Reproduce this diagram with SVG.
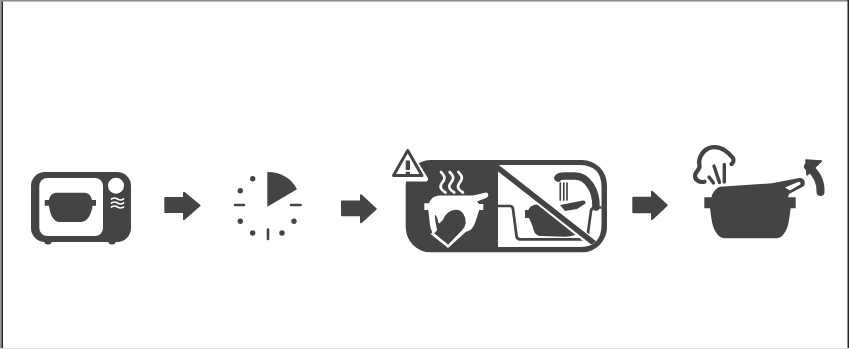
<svg xmlns="http://www.w3.org/2000/svg" width="849" height="349" viewBox="0 0 849 349">
<style>
.d{fill:#444}
.w{fill:#fff}
.sd{fill:none;stroke:#444;stroke-linecap:round;stroke-linejoin:round}
.sw{fill:none;stroke:#fff;stroke-linecap:round;stroke-linejoin:round}
.ar{fill:#444;stroke:#444;stroke-width:2;stroke-linejoin:round}
</style>
<defs>
<clipPath id="whitePane"><path d="M498 165H579Q601.500 165 601.500 187V225Q601.500 247 579 247H498Z"/></clipPath>
</defs>
<rect width="849" height="349" fill="#fff"/>
<g id="frame">
<rect x="0" y="0" width="849" height="1.500" fill="#888"/>
<rect x="0" y="0" width="1.500" height="349" fill="#999"/>
<rect x="1.500" y="1.500" width="1.500" height="347.500" fill="#222"/>
<rect x="847.500" y="0" width="1.500" height="349" fill="#222"/>
<rect x="0" y="348" width="849" height="1" fill="#ddd"/>
</g>
<g id="microwave">
<circle class="d" cx="48" cy="240.500" r="4"/>
<circle class="d" cx="112" cy="240.500" r="4"/>
<rect class="d" x="31" y="172" width="100" height="70" rx="14"/>
<rect class="w" x="39.300" y="178" width="63.700" height="58" rx="8"/>
<circle class="w" cx="116" cy="185.700" r="8"/>
<path class="sw" stroke-width="1.700" d="M111.500 199q3-2 6 0t6 0M111.500 203q3-2 6 0t6 0M111.500 207q3-2 6 0t6 0"/>
<path class="d" d="M44.700 200H49C50 195 53 192.700 57 192.700H84C88 192.700 91 195 92 200H96V205.700H92.500C91.500 214 88 222 80 222H60C53 222 50 214 49 205.700H44.700Z"/>
</g>
<g id="timer">
<path class="d" d="M267.300 206.700V172C281 172 291 178 297 189.300Z"/>
<g class="d">
<circle cx="252.700" cy="178.700" r="2.700"/>
<circle cx="240.300" cy="190.700" r="2.700"/>
<circle cx="240.300" cy="221.300" r="2.700"/>
<circle cx="252.700" cy="233" r="2.700"/>
<circle cx="282" cy="233" r="2.700"/>
<circle cx="294" cy="221.300" r="2.700"/>
</g>
<path class="sd" stroke-width="2.600" d="M235 205H244M291 205H300.500M268 229.500V239"/>
</g>
<g id="cooling-panel">
<rect class="d" x="405.700" y="160" width="201.300" height="92.300" rx="25"/>
<path class="w" d="M498 165H579Q601.500 165 601.500 187V225Q601.500 247 579 247H498Z"/>
<g clip-path="url(#whitePane)">
<path class="sd" stroke-width="2.700" d="M496 206H510Q512.500 206 513 209L516.500 236Q517 239.300 520 239.300H583Q587 239.300 587.500 236L591 211Q591.500 207.500 595 207.500H603"/>
<path class="sd" stroke-width="7.500" stroke-linecap="butt" d="M558 178Q559 176 565 176H575C587 176 596.500 190 596 207"/>
<path class="sd" stroke-width="1.700" stroke-linecap="butt" d="M560.300 183V200M563.800 183V200M567 183V200"/>
<path class="d" d="M525 210H528.500C530 206 533 205 538 204L548 203.500L579 233L577 233.500C574 236 570 236.500 565 236.800L540 236C535 235 534 232 532.500 226L529 218H525Z"/>
<path class="d" d="M560 205L583 200.500Q586 200.500 585.500 203.500L577 209L565 211Z"/>
<path class="sw" stroke-width="9" stroke-linecap="butt" d="M493 163.500L596 245.500"/>
<path class="sd" stroke-width="5.500" stroke-linecap="butt" d="M493 164L597 245.500"/>
</g>
<path class="w" d="M424.300 203.300V210H428.300L430 225C431 230 432 232 433 233.500L430 233.500L448 248L466 231.700C471 231 473.700 227 475.300 222C477 218 478 213 479.300 210H483.300V204H479C478.300 203 478 202.500 477 201.500L486 198C489 197 489 192.500 486 192.500L473 195.500H440C434 196 431 198 429 203.300Z"/>
<path class="d" stroke="#fff" stroke-width="2" stroke-linejoin="round" d="M434 214.300C436.500 213 438 216 439.300 222.300C440 221 441 220.500 441.700 220C443.500 214 450 208.500 456 208.700C463 208.700 467 216 466.700 223C466.300 226.500 464.500 229 462.700 231L448.300 246L432.700 233.300L436 230C435 224 433.500 219 434 214.300Z"/>
<g class="sw" stroke-width="2.700">
<path d="M441 172C446 177 445 179 442 183C439 187 441 190 445.500 192.500"/>
<path d="M449.700 172C454.700 177 453.700 179 450.700 183C447.700 187 449.700 190 454.200 192.500"/>
<path d="M458.400 172C463.400 177 462.400 179 459.400 183C456.400 187 458.400 190 462.900 192.500"/>
</g>
<path d="M407.700 150L390 179H425.500Z" fill="#fff" stroke="#fff" stroke-width="5" stroke-linejoin="round"/>
<path d="M407.700 150.500L393.500 175.500H422Z" fill="#fff" stroke="#444" stroke-width="3" stroke-linejoin="round"/>
<path class="d" d="M405.700 160.500H410V170H405.700ZM405.700 171.700H410V175H405.700Z"/>
</g>
<g id="pot-release">
<path class="d" d="M704.300 197.300H711.500C712 193 716 188 720 186.700L772 183.300L798 178.300C804 177 806 182 804 186L789 194L788 197.300H795.700V208.300H790.700C789 219 789 226 785 232C782 237 780 238.300 775 238.300H725C719 238.300 715 232 713 226C711.500 221 711 215 710 208.300H704.300Z"/>
<path class="w" d="M785 187.500L798.500 181.800Q801 182 800.500 184.300L790 190.500Z"/>
<path class="sd" stroke-width="4.200" d="M704.500 181.700C699 183 694.500 179.500 695 175C695.500 171.500 700.500 169 699.500 165.500C698 160 701 152 708 148.500C716 145.500 722 148.500 725 150.500C730 154 732 157 733 158C734 160 733.500 163 731.500 164"/>
<path class="sd" stroke-width="3.400" d="M709 177L713.500 183M714 166L719.500 182.500M724.300 164.500V182"/>
<path class="sd" stroke-width="8" stroke-linecap="butt" d="M820.500 192C821 181 815 172 808 166.500"/>
<path class="d" d="M806 160L821.500 161L807 175Z" stroke="#444" stroke-width="1.500" stroke-linejoin="round"/>
</g>
<g id="connectors">
<path class="ar" d="M165.300 198H184V192.700L199.500 205.500L184 219V212H165.300Z"/>
<path class="ar" d="M342 201.500H361V195.300L375.700 209L361 222.300V215.300H342Z"/>
<path class="ar" d="M633.300 197.700H652V191.700L666.700 205.300L652 219V212.300H633.300Z"/>
</g>
</svg>
